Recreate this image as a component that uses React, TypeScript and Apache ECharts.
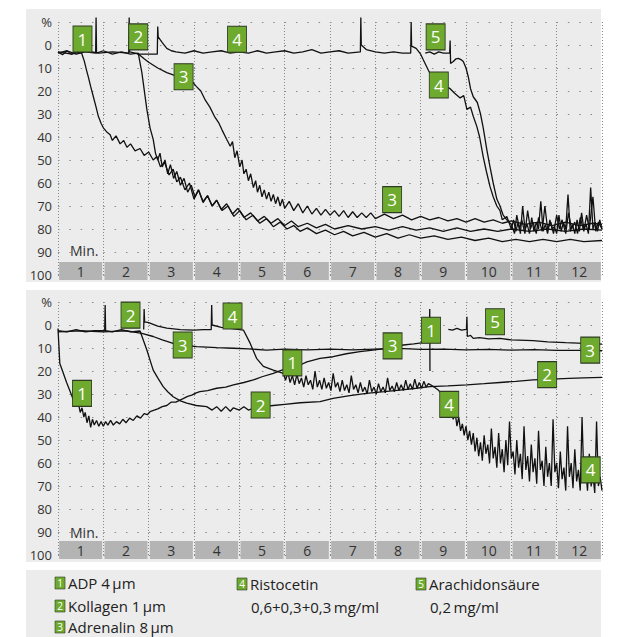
import React, { useEffect, useRef } from "react";
import * as echarts from "echarts";

// ---------- data ----------
const minuteLabels = ["1", "2", "3", "4", "5", "6", "7", "8", "9", "10", "11", "12"];

// top panel traces: [minute, % aggregation]
const topADP = [[0,3],[0.1,4.2],[0.2,2.6],[0.3,4],[0.4,2.8],[0.52,3.5],[0.58,7],[0.63,11],[0.67,14],[0.72,18],[0.78,22.5],[0.84,27],[0.89,31],[0.95,34],[1.0,36],[1.07,37.7],[1.15,39],[1.2,41.5],[1.28,39.5],[1.37,43],[1.45,41.5],[1.52,44.5],[1.6,43],[1.7,46],[1.81,45],[1.9,48],[2.0,46.5],[2.1,50],[2.18,48.5],[2.26,53],[2.35,51],[2.45,56.5],[2.54,54],[2.62,59.5],[2.7,57.5],[2.8,63],[2.9,60],[3.0,67],[3.1,63],[3.2,68.5],[3.3,65.5],[3.4,70],[3.5,67.5],[3.62,72],[3.75,70],[3.88,74.5],[4.01,72],[4.15,76],[4.3,74],[4.45,77.5],[4.6,75.5],[4.75,79],[4.9,77],[5.05,80],[5.2,78.5],[5.34,81],[5.5,79.5],[5.7,82],[5.9,80.5],[6.1,82.5],[6.3,81],[6.5,83],[6.75,81.5],[7.0,83.5],[7.25,82],[7.5,84],[7.75,82.5],[8.0,84],[8.3,83],[8.6,84.5],[8.9,83.5],[9.2,85],[9.5,84],[9.8,85.5],[10.1,84.5],[10.4,85.5],[10.7,84.5],[11.0,85.5],[11.3,84.5],[11.6,85.5],[12,85]];
const topKollagen = [[0,3.5],[0.2,2.5],[0.4,4],[0.6,3],[0.83,3.5],[0.84,-12],[0.85,3.5],[1.0,2.5],[1.2,4],[1.4,3],[1.6,4],[1.77,3.5],[1.85,12],[1.96,28],[2.03,36],[2.1,41],[2.15,47],[2.2,50],[2.25,47],[2.3,53],[2.36,50],[2.42,56],[2.48,52],[2.55,58],[2.62,55],[2.7,61],[2.78,58],[2.86,64],[2.94,61],[3.02,66],[3.1,63],[3.2,68],[3.3,65.5],[3.4,70],[3.5,67.5],[3.6,71.5],[3.72,69],[3.85,73.5],[3.97,71],[4.1,75],[4.25,73],[4.4,76.5],[4.55,74.5],[4.7,77.5],[4.85,75.5],[5.0,78.5],[5.15,76.5],[5.3,79],[5.5,77.5],[5.7,79.5],[5.9,78],[6.1,80],[6.4,78.5],[6.7,80],[7.0,79],[7.3,80.5],[7.6,79],[7.9,80.5],[8.2,79.5],[8.5,81],[8.8,79.5],[9.1,81],[9.4,80],[9.7,81],[10,80],[10.4,81],[10.8,80],[11.2,81],[11.6,80],[12,80.5]];
const topAdrenalin = [[0,3],[0.3,4],[0.6,2.5],[0.9,3.5],[1.2,3],[1.56,3.5],[1.57,-12],[1.58,3],[1.7,3.5],[1.78,4],[1.9,6],[2.0,7.5],[2.2,10],[2.4,12],[2.54,13],[2.7,14],[2.85,15],[2.96,16],[3.05,18],[3.15,20],[3.25,24],[3.35,27],[3.45,31],[3.55,34],[3.62,37],[3.72,41],[3.8,44],[3.85,42],[3.9,49],[3.95,46],[4.01,53],[4.06,50],[4.1,56],[4.15,54],[4.2,59],[4.25,56],[4.31,62],[4.36,59],[4.4,64],[4.45,61],[4.5,66],[4.55,63],[4.6,67],[4.65,64],[4.7,68],[4.75,65],[4.8,69],[4.85,66],[4.9,70],[4.95,67],[5.0,71],[5.1,68],[5.2,72],[5.3,69],[5.4,73],[5.5,70],[5.6,73.5],[5.7,71],[5.8,74],[5.9,71.5],[6.0,74],[6.1,72],[6.2,74.5],[6.3,72],[6.4,75],[6.5,72.5],[6.6,75],[6.7,73],[6.8,75],[6.9,73],[7.0,75.5],[7.2,73.5],[7.4,75.5],[7.6,74],[7.8,76],[8.0,74.5],[8.2,76],[8.4,75],[8.6,76.5],[8.8,75.5],[9.0,77],[9.2,75.5],[9.4,77],[9.6,76],[9.8,77.5],[10,76.5],[10.3,78],[10.6,77],[10.9,78.5],[11.2,77],[11.5,78.5],[11.8,77.5],[12,78]];
const topRistocetin = [[1.75,4],[2.19,4],[2.2,-8],[2.21,-3.5],[2.3,-1],[2.4,1.5],[2.5,2.5],[2.6,3],[2.8,3.5],[3.0,2.5],[3.2,3.5],[3.4,3],[3.6,2.5],[3.8,3.5],[4.0,3],[4.2,3.5],[4.4,2.5],[4.6,3.5],[4.8,3],[5.0,2.5],[5.2,3.5],[5.4,3],[5.6,2],[5.8,3.5],[6.0,3],[6.2,2.5],[6.4,3.5],[6.67,3],[6.68,-12],[6.69,0],[6.8,2],[7.0,3],[7.2,3.5],[7.4,3],[7.6,3.5],[7.78,3.5],[7.79,-10],[7.8,0.5],[7.9,1.5],[8.0,4],[8.06,6.5],[8.17,11],[8.25,14],[8.4,16],[8.55,18],[8.65,19],[8.75,21],[8.87,23],[8.95,22],[9.02,28],[9.1,27],[9.16,31],[9.24,35.5],[9.3,40],[9.38,48.6],[9.45,55],[9.53,61.6],[9.6,66],[9.68,70],[9.75,72],[9.8,76],[9.9,74.6],[10.0,80],[10.05,76],[10.1,81],[10.15,77],[10.2,82],[10.25,70],[10.3,80],[10.35,78],[10.4,82],[10.45,75],[10.5,81],[10.55,77],[10.6,80],[10.65,68],[10.7,81],[10.75,78],[10.8,82],[10.85,76],[10.9,80],[10.95,79],[11.0,82],[11.05,74],[11.1,81],[11.15,77],[11.2,80],[11.25,65],[11.3,81],[11.35,78],[11.4,82],[11.45,76],[11.5,81],[11.55,73],[11.6,80],[11.65,78],[11.7,82],[11.75,62],[11.8,80],[11.85,77],[11.9,81],[11.95,76],[12.0,80]];
const topArachidon = [[8.1,3.5],[8.2,3],[8.3,4],[8.4,3],[8.5,3.5],[8.64,3.5],[8.65,-2],[8.66,8],[8.72,7.2],[8.78,6],[8.83,5.8],[8.9,6.5],[8.94,7.2],[9.0,10],[9.05,13.8],[9.1,19],[9.16,22.5],[9.25,25],[9.32,30],[9.38,36],[9.46,45.6],[9.52,52],[9.6,60],[9.68,67],[9.75,70],[9.82,74],[9.9,76],[10.0,78],[10.07,82],[10.12,74],[10.18,80],[10.23,76],[10.3,82],[10.36,72],[10.42,80],[10.48,77],[10.55,82],[10.6,75],[10.68,81],[10.74,70],[10.8,80],[10.87,77],[10.93,82],[11.0,74],[11.06,80],[11.12,76],[11.2,82],[11.26,73],[11.33,80],[11.4,77],[11.46,82],[11.52,75],[11.6,81],[11.66,74],[11.72,80],[11.8,66],[11.86,81],[11.92,77],[12.0,80]];

// bottom panel traces
const botADP = [[0,1.5],[0.04,16.7],[0.1,20],[0.19,25],[0.27,29],[0.34,32.6],[0.4,35.5],[0.45,34],[0.49,38],[0.53,36],[0.57,40],[0.6,38],[0.64,42.5],[0.68,39.5],[0.72,44.5],[0.76,41],[0.8,43.5],[0.85,41.5],[0.9,44],[0.95,42],[1.0,44],[1.05,42],[1.1,43.5],[1.16,41.5],[1.22,43.5],[1.29,42],[1.36,43],[1.43,41],[1.5,42.5],[1.58,40.5],[1.66,41.5],[1.74,39.5],[1.82,40.5],[1.9,38.5],[1.97,39],[2.03,37.7],[2.2,36.5],[2.3,35.5],[2.4,35],[2.5,33.5],[2.6,33.5],[2.76,32],[2.86,31],[2.95,30.5],[3.05,29.5],[3.13,29],[3.3,28.5],[3.5,27.5],[3.7,27],[3.87,26],[4.1,25],[4.31,23.9],[4.5,22.5],[4.75,21],[4.95,19.5],[5.12,18],[5.34,17.4],[5.49,16],[5.78,14.5],[6.07,13.8],[6.36,12.5],[6.66,11.6],[6.9,11],[7.17,10.4],[7.4,9.5],[7.62,8.7],[7.85,8.2],[8.06,7.7],[8.19,7.5],[8.2,-7],[8.205,20]];
const botKollagen = [[0,2.5],[0.2,3],[0.4,2],[0.6,3],[0.8,2.5],[1.03,2.5],[1.04,-8.7],[1.05,2.5],[1.2,3],[1.4,2],[1.6,3],[1.81,2.6],[1.96,10.9],[2.1,19.6],[2.2,23],[2.32,26.8],[2.42,29],[2.54,31.2],[2.7,33],[2.84,34],[3.05,35],[3.28,35.5],[3.4,37],[3.5,35.5],[3.6,37.5],[3.7,35.5],[3.8,37.5],[3.87,36],[4.0,37],[4.1,35.5],[4.2,37],[4.31,36.2],[4.5,35.5],[4.75,35],[5.0,34.5],[5.34,33.8],[5.78,33.3],[6.07,31.9],[6.4,30.8],[6.8,29.7],[7.2,29],[7.54,28.3],[7.9,27.5],[8.2,26.8],[8.6,26.5],[9.02,26],[9.4,25.5],[9.75,25],[10.1,24.5],[10.48,23.9],[10.9,23.5],[11.27,23.2],[11.6,23],[12,22.8]];
const botAdrenalin = [[0,3],[0.5,2.5],[1.0,3],[1.5,2.5],[1.85,3.6],[2.1,5],[2.3,6.5],[2.54,8],[2.8,8.8],[3.06,9.4],[3.5,9.8],[3.87,10.1],[4.2,10.4],[4.6,10.9],[5,10.5],[5.5,10.8],[6,10.5],[6.5,10.8],[7,10.5],[7.5,10.2],[8,10.6],[8.5,10.5],[9,10.8],[9.5,10.6],[10,10.9],[10.5,10.7],[11,11],[11.5,11],[12,11.2]];
const botRistocetin = [[1.89,2],[1.9,-7],[1.91,-1.4],[2.0,-1],[2.2,0.5],[2.4,1.4],[2.7,2],[3.0,2.2],[3.2,2],[3.38,2],[3.39,-8.7],[3.4,0],[3.6,1],[3.8,1.5],[4.09,2.2],[4.24,8],[4.38,14.5],[4.53,18],[4.75,19.6],[4.97,21],[5.02,24],[5.07,20.5],[5.12,25],[5.17,22],[5.22,26],[5.27,21.5],[5.32,25.5],[5.37,23],[5.42,27],[5.47,22],[5.52,26],[5.57,24],[5.62,28],[5.67,20],[5.72,27],[5.77,24],[5.82,28],[5.87,23],[5.92,27.5],[5.97,25],[6.02,28.5],[6.07,21],[6.12,27],[6.17,25],[6.22,29],[6.27,24],[6.32,28.5],[6.37,26],[6.42,29.5],[6.47,22],[6.52,28],[6.57,26],[6.62,29.5],[6.67,25],[6.72,29],[6.77,27],[6.82,30],[6.87,24],[6.92,29],[6.97,27],[7.02,30],[7.07,25.5],[7.12,29],[7.17,27],[7.22,29.5],[7.27,23],[7.32,28.5],[7.37,26.5],[7.42,29],[7.47,25],[7.52,28.5],[7.57,26],[7.62,28.5],[7.67,24],[7.72,28],[7.77,25.5],[7.82,28],[7.87,23.5],[7.92,27.5],[7.97,25],[8.02,27.5],[8.07,24.5],[8.12,27],[8.17,25.5],[8.22,26],[8.3,27],[8.4,28.5],[8.5,31],[8.6,35],[8.68,39],[8.72,41],[8.76,38],[8.8,44],[8.84,40],[8.88,46],[8.92,43],[8.96,48],[9.0,44],[9.04,50],[9.08,46],[9.12,52],[9.16,47],[9.2,55],[9.24,49],[9.28,57],[9.32,51],[9.36,59],[9.4,48],[9.44,56],[9.48,52],[9.52,60],[9.56,45],[9.6,58],[9.64,53],[9.68,62],[9.72,47],[9.76,60],[9.8,54],[9.84,64],[9.88,50],[9.92,61],[9.96,42],[10.0,58],[10.04,55],[10.08,65],[10.12,50],[10.16,62],[10.2,56],[10.24,67],[10.28,44],[10.32,63],[10.36,57],[10.4,68],[10.44,52],[10.48,64],[10.52,58],[10.56,69],[10.6,46],[10.64,63],[10.68,59],[10.72,70],[10.76,53],[10.8,66],[10.84,60],[10.88,70],[10.92,41],[10.96,64],[11.0,60],[11.04,71],[11.08,55],[11.12,67],[11.16,62],[11.2,72],[11.24,44],[11.28,66],[11.32,60],[11.36,71],[11.4,54],[11.44,68],[11.48,63],[11.52,72],[11.56,40],[11.6,67],[11.64,62],[11.68,72],[11.72,56],[11.76,70],[11.8,65],[11.84,73],[11.88,42],[11.92,70],[11.96,66],[12.0,72]];
const botArachidon = [[8.61,1.9],[8.7,2.2],[8.8,1.5],[8.9,2.2],[9.01,1.9],[9.02,-3.6],[9.03,5],[9.1,4.5],[9.16,5.8],[9.3,5.5],[9.5,6],[9.75,5.8],[10,6.5],[10.48,6.8],[10.8,7.3],[11.2,7.7],[11.6,8],[12,8.3]];

// numbered markers: [minute, %, number]
const topMarkers = [[0.54,-2.6,"1"],[1.77,-3.5,"2"],[3.95,-2.5,"4"],[2.77,13.8,"3"],[8.33,-3.5,"5"],[8.4,17.4,"4"],[7.37,67.2,"3"]];
const botMarkers = [[1.6,-4.3,"2"],[3.85,-3.9,"4"],[2.75,8.7,"3"],[0.53,29.7,"1"],[4.47,34.8,"2"],[5.17,16.5,"1"],[7.38,9.1,"3"],[8.23,2.3,"1"],[9.64,-1.4,"5"],[11.74,10.9,"3"],[10.79,21.6,"2"],[8.63,34.5,"4"],[11.75,63,"4"]];

// legend
const legendNums = ["1", "2", "3", "4", "5"];
const legendNames = ["ADP 4\u2009µm", "Kollagen 1\u2009µm", "Adrenalin 8\u2009µm", "Ristocetin", "Arachidonsäure"];
const legendDoses = ["", "", "", "0,6+0,3+0,3\u2009mg/ml", "0,2\u2009mg/ml"];

const GREEN = "#6eaa2e";
const FONT = "'Open Sans', 'Noto Sans', sans-serif";

export default function App() {
  const ref = useRef<HTMLDivElement>(null);
  useEffect(() => {
    if (!ref.current) return;
    const chart = echarts.init(ref.current, null, { renderer: "svg" });

    const grids = [
      { left: 58, right: 16, top: 22, height: 253 },
      { left: 58, right: 16, top: 302, height: 253 },
    ];
    const xAxes: any[] = [];
    const yAxes: any[] = [];
    [0, 1].forEach((g) => {
      xAxes.push({
        type: "value", gridIndex: g, min: 0, max: 12, interval: 1,
        axisLabel: { show: false }, axisLine: { show: false }, axisTick: { show: false },
        splitLine: { show: true, lineStyle: { type: [1, 2], color: "#8a8a8a", width: 1 } },
      });
      xAxes.push({
        type: "category", gridIndex: g, data: minuteLabels, position: "bottom",
        axisLine: { show: false }, axisTick: { show: false }, splitLine: { show: false },
        axisLabel: {
          margin: g === 0 ? -13 : -14, backgroundColor: "#b4b4b4", width: 43, height: 18,
          lineHeight: 18, align: "center", color: "#333", fontSize: 14, fontFamily: FONT,
        },
      });
      yAxes.push({
        type: "value", gridIndex: g, inverse: true, min: -10, max: 100, interval: 10,
        axisLine: { show: false }, axisTick: { show: false },
        axisLabel: {
          margin: 6, color: "#333", fontSize: 13, fontFamily: FONT,
          formatter: (v: number) => (v === -10 ? "%" : String(v)),
        },
        splitLine: { show: true, lineStyle: { type: [1.5, 9.83], color: "#8a8a8a", width: 1.2 } },
      });
    });

    const line = (data: number[][], g: number) => ({
      type: "line", xAxisIndex: g * 2, yAxisIndex: g, data, showSymbol: false,
      symbol: "none", clip: false, lineStyle: { color: "#111", width: 1.3 }, z: 3,
    });
    const markers = (data: any[], g: number) => ({
      type: "scatter", xAxisIndex: g * 2, yAxisIndex: g, data, symbol: "rect",
      symbolSize: [19, 26], z: 10,
      itemStyle: { color: GREEN, borderColor: "#2e3a22", borderWidth: 1, opacity: 1 },
      label: {
        show: true, position: "inside", color: "#fff", fontSize: 17, fontFamily: FONT,
        formatter: (p: any) => p.value[2],
      },
    });

    const graphic: any[] = [
      { type: "rect", z: -100, shape: { x: 26, y: 9, width: 575, height: 273 }, style: { fill: "#ececec" } },
      { type: "rect", z: -100, shape: { x: 26, y: 290, width: 575, height: 272 }, style: { fill: "#ececec" } },
      { type: "rect", z: -100, shape: { x: 26, y: 570, width: 575, height: 67 }, style: { fill: "#ececec" } },
      { type: "text", z: 5, x: 70, y: 250, style: { text: "Min.", fill: "#333", fontSize: 14, fontFamily: FONT, verticalAlign: "middle" } },
      { type: "text", z: 5, x: 70, y: 532, style: { text: "Min.", fill: "#333", fontSize: 14, fontFamily: FONT, verticalAlign: "middle" } },
    ];
    const legendPos = [
      [55, 583], [55, 606], [55, 627], [237, 584], [416, 584],
    ];
    legendNums.forEach((n, i) => {
      const [lx, ly] = legendPos[i];
      graphic.push({ type: "rect", z: 5, shape: { x: lx, y: ly - 6, width: 10, height: 12 }, style: { fill: GREEN, stroke: "#2e3a22", lineWidth: 0.6 } });
      graphic.push({ type: "text", z: 6, x: lx + 5, y: ly, style: { text: n, fill: "#fff", fontSize: 10, fontFamily: FONT, align: "center", verticalAlign: "middle" } });
      graphic.push({ type: "text", z: 6, x: lx + 13, y: ly, style: { text: legendNames[i], fill: "#222", fontSize: 15, fontFamily: FONT, verticalAlign: "middle" } });
      if (legendDoses[i]) {
        graphic.push({ type: "text", z: 6, x: lx + 14, y: 607, style: { text: legendDoses[i], fill: "#222", fontSize: 15, fontFamily: FONT, verticalAlign: "middle" } });
      }
    });

    chart.setOption({
      animation: false,
      backgroundColor: "#fff",
      textStyle: { fontFamily: FONT },
      grid: grids,
      xAxis: xAxes,
      yAxis: yAxes,
      graphic,
      series: [
        line(topADP, 0), line(topKollagen, 0), line(topAdrenalin, 0), line(topRistocetin, 0), line(topArachidon, 0),
        line(botADP, 1), line(botKollagen, 1), line(botAdrenalin, 1), line(botRistocetin, 1), line(botArachidon, 1),
        markers(topMarkers, 0), markers(botMarkers, 1),
      ],
    });
    return () => chart.dispose();
  }, []);
  return (
    <div
      ref={ref}
      style={{ position: "fixed", left: 0, top: 0, width: 618, height: 637, background: "#fff" }}
    />
  );
}
